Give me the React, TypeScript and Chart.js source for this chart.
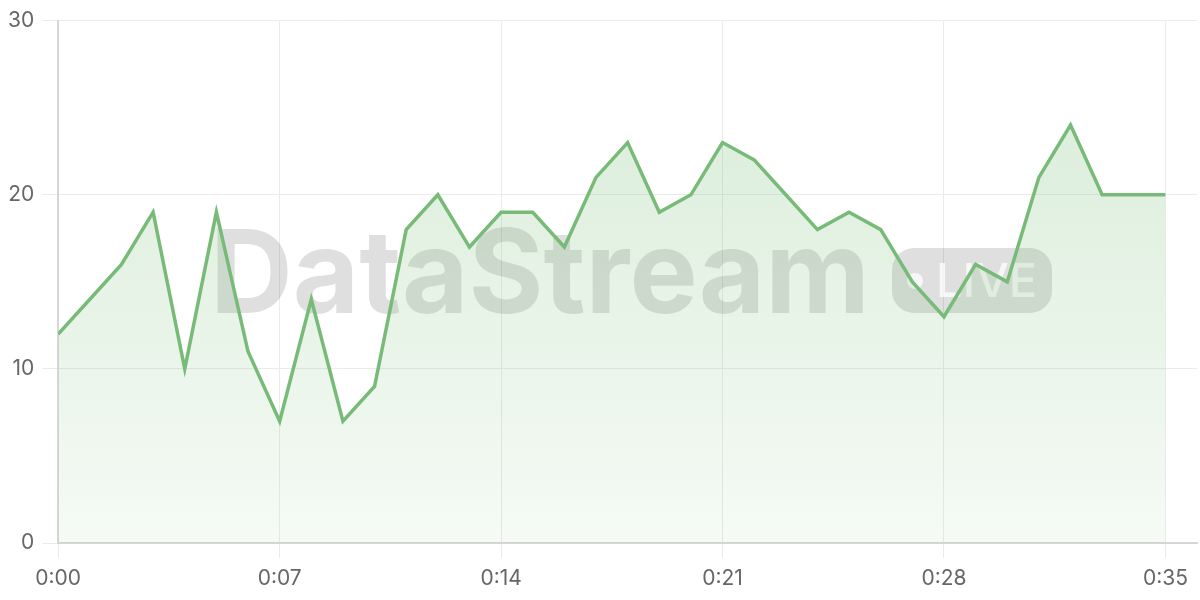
import React, { useEffect, useRef } from 'react';
import { Chart, registerables } from 'chart.js';

Chart.register(...registerables);

const seconds = [
  0, 1, 2, 3, 4, 5, 6, 7, 8, 9, 10, 11, 12, 13, 14, 15, 16, 17,
  18, 19, 20, 21, 22, 23, 24, 25, 26, 27, 28, 29, 30, 31, 32, 33, 34, 35,
];
const values = [
  12, 14, 16, 19, 10, 19, 11, 7, 14, 7, 9, 18, 20, 17, 19, 19, 17, 21,
  23, 19, 20, 23, 22, 20, 18, 19, 18, 15, 13, 16, 15, 21, 24, 20, 20, 20,
];
const xTicks = [0, 7, 14, 21, 28, 35];
const yTicks = [0, 10, 20, 30];

const FONT = 'Inter, "Liberation Sans", Arial, sans-serif';

const fmtTime = (s: number) => `${Math.floor(s / 60)}:${String(s % 60).padStart(2, '0')}`;

const watermark = {
  id: 'watermark',
  beforeDatasetsDraw(chart: Chart) {
    const { ctx } = chart;
    ctx.save();
    ctx.fillStyle = 'rgba(0,0,0,0.125)';
    ctx.font = `bold 116px ${FONT}`;
    ctx.textBaseline = 'alphabetic';
    ctx.textAlign = 'left';
    const w = ctx.measureText('DataStream').width;
    ctx.save();
    ctx.translate(210, 313);
    ctx.scale(660 / w, 1);
    ctx.fillText('DataStream', 0, 0);
    ctx.restore();
    // LIVE pill
    const px = 892, py = 248, pw = 160, ph = 65, r = 22;
    ctx.beginPath();
    ctx.moveTo(px + r, py);
    ctx.arcTo(px + pw, py, px + pw, py + ph, r);
    ctx.arcTo(px + pw, py + ph, px, py + ph, r);
    ctx.arcTo(px, py + ph, px, py, r);
    ctx.arcTo(px, py, px + pw, py, r);
    ctx.closePath();
    ctx.fill();
    ctx.fillStyle = 'rgba(255,255,255,0.75)';
    ctx.beginPath();
    ctx.arc(915, 281, 8, 0, Math.PI * 2);
    ctx.fill();
    ctx.font = `500 47px ${FONT}`;
    ctx.fillText('LIVE', 936, 297);
    ctx.restore();
  },
};

const App: React.FC = () => {
  const chartRef = useRef<HTMLCanvasElement>(null);

  useEffect(() => {
    if (!chartRef.current) return;
    const chart = new Chart(chartRef.current, {
      type: 'line',
      data: {
        datasets: [
          {
            data: seconds.map((s, i) => ({ x: s, y: values[i] })),
            borderColor: '#78bb78',
            borderWidth: 3.5,
            pointRadius: 0,
            tension: 0,
            fill: 'origin',
            backgroundColor: (c: any) => {
              const area = c.chart.chartArea;
              if (!area) return 'rgba(120,190,120,0.2)';
              const g = c.chart.ctx.createLinearGradient(0, area.top, 0, area.bottom);
              g.addColorStop(0, 'rgba(120,190,120,0.3)');
              g.addColorStop(1, 'rgba(120,190,120,0.07)');
              return g;
            },
          },
        ],
      },
      options: {
        animation: false,
        responsive: true,
        maintainAspectRatio: false,
        layout: { padding: { top: 10, right: 2, left: 0, bottom: 0 } },
        plugins: { legend: { display: false }, tooltip: { enabled: false } },
        scales: {
          x: {
            type: 'linear',
            min: 0,
            max: 36,
            afterBuildTicks: (scale: any) => {
              scale.ticks = xTicks.map((v) => ({ value: v }));
            },
            ticks: {
              callback: (v: any) => fmtTime(Number(v)),
              color: '#666',
              font: { size: 21, family: FONT, lineHeight: 0.85 },
              padding: 12,
              maxRotation: 0,
            },
            grid: { color: '#ebebeb', tickLength: 15 },
            border: { color: '#d6d6d6', width: 2 },
          },
          y: {
            min: 0,
            max: 30,
            afterBuildTicks: (scale: any) => {
              scale.ticks = yTicks.map((v) => ({ value: v }));
            },
            ticks: {
              color: '#666',
              font: { size: 21, family: FONT },
              padding: 8,
            },
            grid: { color: '#ebebeb', tickLength: 16 },
            border: { color: '#d6d6d6', width: 2 },
          },
        },
      },
      plugins: [watermark],
    });
    return () => {
      chart.destroy();
    };
  }, []);

  return (
    <div style={{ position: 'fixed', left: 0, top: 0, width: '1200px', height: '600px', background: '#fff' }}>
      <canvas ref={chartRef} />
    </div>
  );
};

export default App;
